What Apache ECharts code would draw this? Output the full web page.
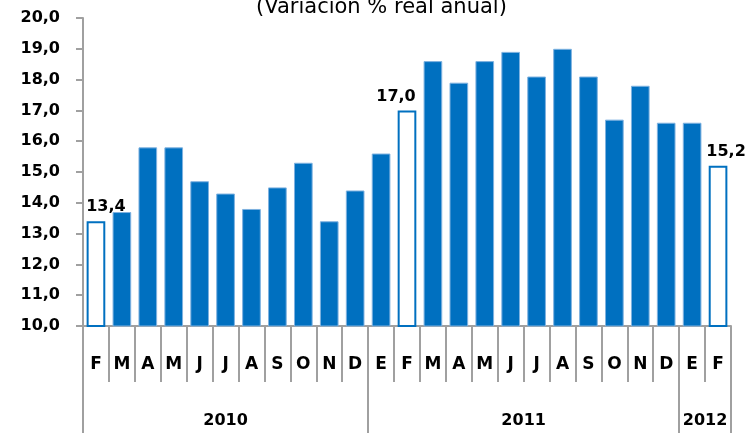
<!DOCTYPE html>
<html>
<head>
<meta charset="utf-8">
<script src="https://cdn.jsdelivr.net/npm/echarts@6/dist/echarts.min.js"></script>
<style>
  html, body { margin: 0; padding: 0; background: #fff; }
  #chart { width: 747px; height: 433px; }
</style>
</head>
<body>
<div id="chart"></div>
<script>
// meses (F 2010 .. F 2012)
var months = ['F','M','A','M','J','J','A','S','O','N','D','E','F','M','A','M','J','J','A','S','O','N','D','E','F'];
var values = [13.4,13.7,15.8,15.8,14.7,14.3,13.8,14.5,15.3,13.4,14.4,15.6,17.0,18.6,17.9,18.6,18.9,18.1,19.0,18.1,16.7,17.8,16.6,16.6,15.2];
// años y cuantos meses de cada uno hay en el eje
var years = ['2010','2011','2012'];
var yearLengths = [11, 12, 2];
// barras en blanco (febreros) con su etiqueta
var hollowIdx = [0, 12, 24];
var yTicks = [10,11,12,13,14,15,16,17,18,19,20];

var blue = '#0070C0';
var axisGrey = '#a0a0a0';
var font = 'DejaVu Sans';

// fronteras y centros de los años (en unidades de categoria)
var yearBounds = [0];
var yearCenters = [];
var monthBounds = [];
var acc = 0;
yearLengths.forEach(function (n) {
    yearCenters.push(acc + n / 2);
    acc += n;
    yearBounds.push(acc);
});
for (var i = 0; i <= months.length; i++) monthBounds.push(i);

var labelShift = {0: 10, 12: -11, 24: 8};

var barData = values.map(function (v, i) {
    if (hollowIdx.indexOf(i) >= 0) {
        return {
            value: v,
            itemStyle: { color: '#fff', borderColor: blue, borderWidth: 2 },
            label: {
                show: true,
                position: 'top',
                distance: 6,
                offset: [labelShift[i] || 0, 0],
                formatter: function (p) { return p.value.toFixed(1).replace('.', ','); },
                color: '#000',
                fontFamily: font,
                fontWeight: 'bold',
                fontSize: 16
            }
        };
    }
    return v;
});

var chart = echarts.init(document.getElementById('chart'));
var option = {
    animation: false,
    title: {
        text: '(Variación % real anual)',
        left: 256,
        top: -3,
        padding: 0,
        textStyle: { fontFamily: font, fontWeight: 'normal', fontSize: 21, color: '#000' }
    },
    grid: { left: 83, right: 16, top: 18, bottom: 107 },
    xAxis: [{
        type: 'category',
        data: months,
        position: 'bottom',
        axisLine: { lineStyle: { color: axisGrey, width: 2 } },
        axisTick: { show: false },
        axisLabel: {
            interval: 0, margin: 30, color: '#000',
            fontFamily: font, fontWeight: 'bold', fontSize: 17
        }
    }, {
        // separadores de meses
        type: 'value',
        min: 0,
        max: months.length,
        position: 'bottom',
        axisLine: { show: false },
        splitLine: { show: false },
        axisTick: { show: true, customValues: monthBounds, length: 56, lineStyle: { color: axisGrey, width: 2 } },
        axisLabel: { show: false }
    }, {
        // nivel de años
        type: 'value',
        min: 0,
        max: months.length,
        position: 'bottom',
        axisLine: { show: false },
        splitLine: { show: false },
        axisTick: { show: true, customValues: yearBounds, length: 107, lineStyle: { color: axisGrey, width: 2 } },
        axisLabel: {
            customValues: yearCenters,
            margin: 87,
            formatter: function (v) { return years[yearCenters.indexOf(v)] || ''; },
            color: '#000', fontFamily: font, fontWeight: 'bold', fontSize: 16
        }
    }],
    yAxis: {
        type: 'value',
        min: yTicks[0],
        max: yTicks[yTicks.length - 1],
        interval: 1,
        splitLine: { show: false },
        axisLine: { show: true, lineStyle: { color: axisGrey, width: 2 } },
        axisTick: { show: true, length: 7, lineStyle: { color: axisGrey, width: 2 } },
        axisLabel: {
            margin: 23,
            formatter: function (v) { return v.toFixed(1).replace('.', ','); },
            color: '#000', fontFamily: font, fontWeight: 'bold', fontSize: 16
        }
    },
    series: [{
        type: 'bar',
        xAxisIndex: 0,
        data: barData,
        barWidth: '72%',
        itemStyle: { color: blue, borderColor: '#7fb2e0', borderWidth: 1 }
    }]
};
chart.setOption(option);
</script>
</body>
</html>
